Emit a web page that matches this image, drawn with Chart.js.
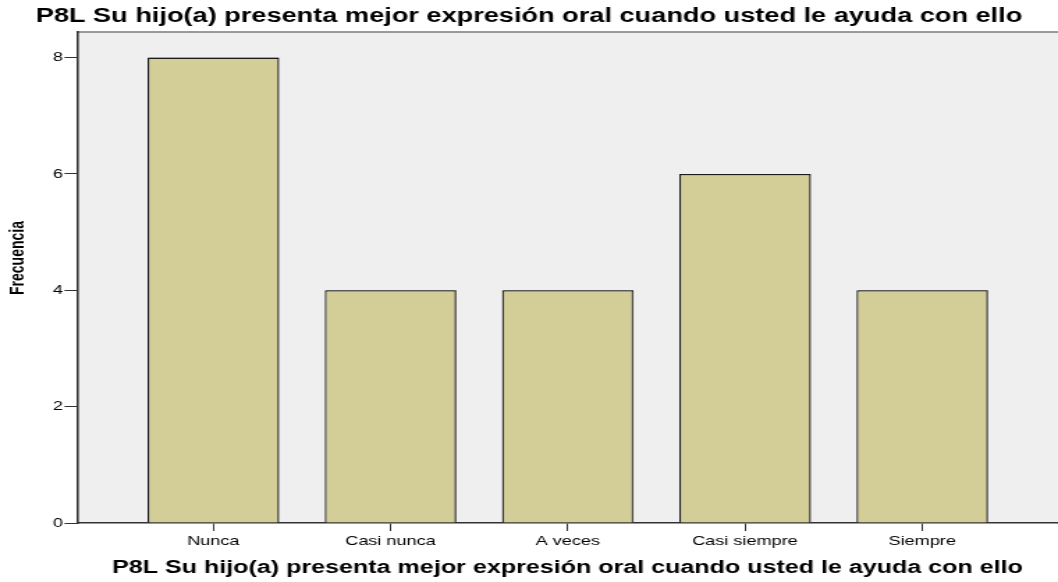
<!DOCTYPE html>
<html><head><meta charset="utf-8">
<script src="https://cdn.jsdelivr.net/npm/chart.js@4"></script>
<style>html,body{margin:0;padding:0;background:#fff;overflow:hidden}</style>
</head><body>
<canvas id="c" width="760" height="582" style="width:1058px;height:582px;display:block"></canvas>
<script>
const categories = ['Nunca', 'Casi nunca', 'A veces', 'Casi siempre', 'Siempre'];
const frequencies = [8, 4, 4, 6, 4];
const yTickValues = [0, 2, 4, 6, 8];
const chartTitle = 'P8L Su hijo(a) presenta mejor expresión oral cuando usted le ayuda con ello';
const xTitle = 'P8L Su hijo(a) presenta mejor expresión oral cuando usted le ayuda con ello';
const yTitle = 'Frecuencia';

const FONT = "'Liberation Sans', Arial, sans-serif";

const plotDecor = {
  id: 'plotDecor',
  beforeDraw(chart) {
    const {ctx, chartArea: a} = chart;
    ctx.save();
    ctx.fillStyle = '#efefef';
    ctx.fillRect(a.left, a.top, a.right - a.left, a.bottom - a.top);
    ctx.strokeStyle = '#7a7a7a';
    ctx.lineWidth = 1.5;
    ctx.beginPath();
    ctx.moveTo(a.left, a.top);
    ctx.lineTo(a.right, a.top);
    ctx.stroke();
    ctx.restore();
  },
  beforeDatasetDraw(chart) {
    const ctx = chart.ctx;
    ctx.save();
    ctx.shadowColor = 'rgba(90,90,90,0.75)';
    ctx.shadowOffsetX = 1.5;
    ctx.shadowOffsetY = 0;
    ctx.shadowBlur = 0;
  },
  afterDatasetDraw(chart) {
    chart.ctx.restore();
  },
  afterDraw(chart) {
    const ctx = chart.ctx;
    ctx.save();
    ctx.translate(13, 258);
    ctx.rotate(-Math.PI / 2);
    ctx.font = 'bold 14px ' + FONT;
    ctx.fillStyle = '#000';
    ctx.textAlign = 'center';
    ctx.textBaseline = 'middle';
    ctx.fillText(yTitle, 0, 0);
    ctx.restore();
  }
};

new Chart(document.getElementById('c'), {
  type: 'bar',
  data: {
    datasets: [{
      data: categories.map((c, i) => ({x: i + 1, y: frequencies[i]})),
      backgroundColor: '#d3ce97',
      borderColor: '#1a1a1a',
      borderWidth: 1.3,
      borderSkipped: 'bottom',
      categoryPercentage: 1,
      barPercentage: 0.742
    }]
  },
  options: {
    responsive: false,
    devicePixelRatio: 1,
    animation: false,
    layout: {padding: 0},
    plugins: {
      legend: {display: false},
      tooltip: {enabled: false},
      title: {
        display: true,
        text: chartTitle,
        color: '#000',
        font: {family: FONT, size: 19.5, weight: 'bold', lineHeight: 1.2},
        padding: {top: 5, bottom: 3.6}
      }
    },
    scales: {
      x: {
        type: 'linear',
        offset: false,
        min: 0.231,
        max: 5.766,
        afterBuildTicks: s => { s.ticks = categories.map((c, i) => ({value: i + 1})); },
        afterFit: s => { s.height = 59; },
        ticks: {
          callback: v => categories[v - 1],
          color: '#000',
          font: {family: FONT, size: 13},
          padding: 3,
          maxRotation: 0,
          autoSkip: false
        },
        grid: {offset: false, drawOnChartArea: false, drawTicks: true, tickLength: 8, tickColor: '#333', tickWidth: 1},
        border: {display: true, color: '#333', width: 1.6},
        title: {
          display: true,
          text: xTitle,
          color: '#000',
          font: {family: FONT, size: 18, weight: 'bold', lineHeight: 1.2},
          padding: {top: 0, bottom: 3}
        }
      },
      y: {
        min: 0,
        max: 8.44,
        afterBuildTicks: s => { s.ticks = yTickValues.map(v => ({value: v})); },
        afterFit: s => { s.width = 55.3; },
        ticks: {
          color: '#000',
          font: {family: FONT, size: 13},
          padding: 1
        },
        grid: {drawOnChartArea: false, drawTicks: true, tickLength: 9, tickColor: '#333', tickWidth: 1},
        border: {display: true, color: '#333', width: 1.6}
      }
    }
  },
  plugins: [plotDecor]
});
</script>
</body></html>
